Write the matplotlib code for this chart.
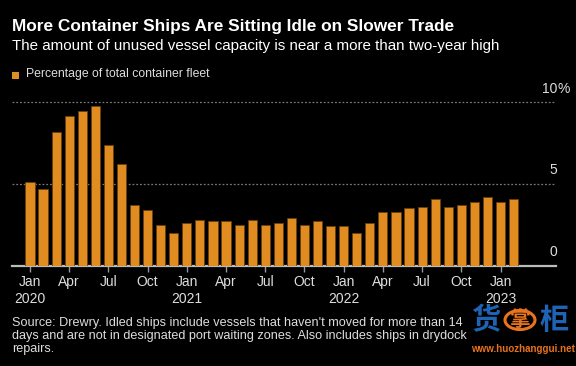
import matplotlib
matplotlib.use("Agg")
import matplotlib.pyplot as plt
from matplotlib.patches import Circle, Rectangle
import numpy as np

# Idle container fleet, % of total, monthly Jan 2020 - Feb 2023
idle_pct = [
    5.1, 4.7, 8.2, 9.2, 9.5, 9.8, 7.4, 6.2, 3.7, 3.4, 2.5, 2.0,   # 2020
    2.6, 2.8, 2.7, 2.7, 2.5, 2.8, 2.5, 2.6, 2.9, 2.5, 2.7, 2.4,   # 2021
    2.4, 2.0, 2.6, 3.3, 3.3, 3.5, 3.6, 4.1, 3.6, 3.7, 3.9, 4.2,   # 2022
    3.9, 4.1,                                                    # 2023
]
tick_idx = list(range(0, 37, 3))
tick_labels = ["Jan\n2020", "Apr", "Jul", "Oct", "Jan\n2021", "Apr", "Jul", "Oct",
               "Jan\n2022", "Apr", "Jul", "Oct", "Jan\n2023"]
y_grid = [5, 10]
y_labels = ["5", "10"]

title = "More Container Ships Are Sitting Idle on Slower Trade"
subtitle = "The amount of unused vessel capacity is near a more than two-year high"
legend_label = "Percentage of total container fleet"
source = ["Source: Drewry. Idled ships include vessels that haven't moved for more than 14",
          "days and are not in designated port waiting zones. Also includes ships in drydock",
          "repairs."]

bar_color = "#E08C21"
light = "#dddddd"
plt.rcParams["font.family"] = ["Liberation Sans", "DejaVu Sans"]

W, H = 576, 366
fig = plt.figure(figsize=(W / 100, H / 100), dpi=100, facecolor="black")
renderer = fig.canvas.get_renderer()


def fitted_text(x_px, y_px, s, width_px, **kw):
    # size the text so that it spans width_px, like the reference
    t = fig.text(x_px / W, 1 - y_px / H, s, fontsize=10, **kw)
    w = t.get_window_extent(renderer).width
    t.set_fontsize(10 * width_px / w)
    return t


# axes placed in pixel terms
x_left, x_right = 12, 556
base_y, unit_px = 265.5, 16.3
ymax = 10.6
ax = fig.add_axes([x_left / W, (H - base_y) / H, (x_right - x_left) / W, ymax * unit_px / H])
ax.set_facecolor("black")

x = np.arange(len(idle_pct))
ax.bar(x, idle_pct, width=0.7, color=bar_color, edgecolor="#6b3f0c", linewidth=0.6, zorder=3)

px_per_month = 13.07
ax.set_xlim((x_left - 30) / px_per_month, (x_right - 30) / px_per_month)
ax.set_ylim(0, ymax)

for v in y_grid:
    ax.axhline(v, color="#777777", linestyle=(0, (1.5, 1.5)), linewidth=0.9, zorder=1)

for s in ["left", "right", "top"]:
    ax.spines[s].set_visible(False)
ax.spines["bottom"].set_color("#bbbbbb")
ax.spines["bottom"].set_linewidth(1.6)
ax.set_yticks([])
ax.set_xticks(tick_idx)
ax.set_xticklabels(tick_labels, color=light, fontsize=10, linespacing=1.25)
ax.tick_params(axis="x", length=4, width=1, color="#999999", pad=3)

# right side value labels, sitting above their gridlines
lab_x = (557 - x_left) / (x_right - x_left)
ax.text(lab_x, 0.4 / ymax, "0", transform=ax.transAxes, ha="right", va="bottom",
        color=light, fontsize=10)
for v, lab in zip(y_grid, y_labels):
    ax.text(lab_x, (v + 0.4) / ymax, lab, transform=ax.transAxes, ha="right", va="bottom",
            color=light, fontsize=10, clip_on=False)
ax.text(lab_x, (10 + 0.4) / ymax, "%", transform=ax.transAxes, ha="left", va="bottom",
        color=light, fontsize=10, clip_on=False)

# headings
fitted_text(12, 27, title, 444, color="white", fontweight="bold", va="center")
fitted_text(12, 46, subtitle, 490, color="white", va="center")
fig.patches.append(Rectangle((12 / W, 1 - 79 / H), 7 / W, 7 / H, transform=fig.transFigure,
                             facecolor=bar_color, edgecolor="none"))
fitted_text(26, 74.5, legend_label, 185, color=light, va="center")

src = fitted_text(12, 323, source[0], 450, color=light, va="center")
for i, line in enumerate(source[1:], start=1):
    fig.text(12 / W, 1 - (323 + 13 * i) / H, line, color=light, va="center",
             fontsize=src.get_fontsize())

# watermark
cjk = ["Noto Sans CJK SC", "DejaVu Sans"]
fig.patches.append(Circle((520 / W, 1 - 320 / H), 15 / W, transform=fig.transFigure,
                          facecolor="none", edgecolor="#e8731e", linewidth=2.2))
fig.text(486 / W, 1 - 320 / H, "货", color="#1f64b4", fontsize=21, fontweight="bold",
         ha="center", va="center", family=cjk)
fig.text(520 / W, 1 - 320 / H, "掌", color="#e8731e", fontsize=15, fontweight="bold",
         ha="center", va="center", family=cjk)
fig.text(540 / W, 1 - 320 / H, "柜", color="#1f64b4", fontsize=21, fontweight="bold",
         ha="left", va="center", family=cjk)
fitted_text(471, 348.5, "www.huozhanggui.net", 104, color="#e8731e", fontweight="bold",
            va="center")

fig.savefig("out.png", dpi=100, facecolor="black")
